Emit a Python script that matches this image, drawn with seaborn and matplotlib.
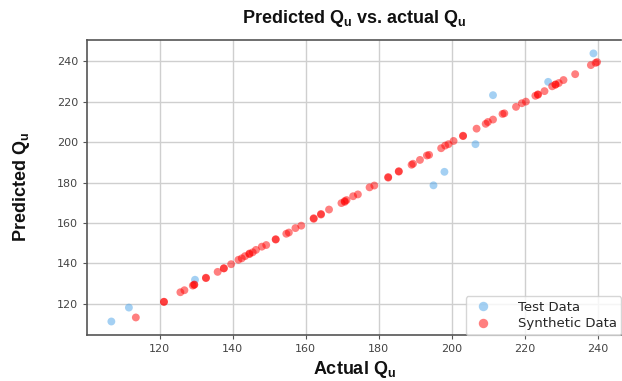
# Predicted vs actual Qu scatter (test + synthetic)
import pandas as pd
import seaborn as sns
import matplotlib.pyplot as plt

sns.set_style('ticks')
plt.rcParams['mathtext.fontset'] = 'custom'
plt.rcParams['mathtext.rm'] = 'Liberation Sans'
plt.rcParams['mathtext.bf'] = 'Liberation Sans:bold'

# test data
test_actual = [106.8, 111.6, 129.7, 195.0, 198.0, 206.5, 211.3, 226.4, 238.8]
test_pred = [111.1, 118.0, 131.8, 178.6, 185.3, 199.0, 223.3, 229.9, 244.0]

# synthetic data
syn_actual = [113.5, 121.2, 121.2, 125.7, 126.8, 129.1, 129.5, 129.5, 132.7, 132.7,
              135.9, 137.6, 137.6, 139.6, 141.6, 142.5, 143.4, 144.6, 144.6, 145.5,
              146.4, 148.0, 149.2, 151.8, 151.8, 154.7, 155.4, 157.2, 158.8, 162.2,
              162.2, 164.2, 164.2, 166.4, 169.8, 170.7, 170.7, 171.2, 173.0, 174.3,
              177.5, 178.8, 182.6, 182.6, 185.5, 185.5, 189.0, 189.4, 191.3, 193.2,
              193.8, 197.1, 198.2, 199.1, 200.5, 203.1, 203.1, 206.8, 209.3, 209.9,
              211.3, 213.9, 214.4, 217.6, 219.2, 220.3, 222.9, 223.6, 223.6, 225.4,
              227.5, 228.4, 228.4, 229.3, 230.6, 233.8, 238.1, 239.4, 239.8]
syn_pred = [113.1, 120.8, 120.9, 125.6, 126.6, 128.9, 129.4, 129.3, 132.8, 132.6,
            135.7, 137.4, 137.5, 139.5, 141.7, 142.4, 143.5, 144.5, 144.8, 145.4,
            146.6, 148.2, 149.0, 151.7, 151.9, 154.6, 155.2, 157.4, 158.6, 162.0,
            162.3, 164.1, 164.4, 166.6, 169.8, 170.4, 170.8, 171.3, 173.2, 174.1,
            177.6, 178.5, 182.4, 182.7, 185.4, 185.6, 188.8, 189.3, 191.2, 193.4,
            193.7, 197.0, 198.3, 199.0, 200.6, 203.0, 203.2, 206.7, 209.1, 210.0,
            211.2, 214.0, 214.3, 217.5, 219.3, 220.1, 223.0, 223.5, 223.7, 225.3,
            227.7, 228.5, 228.6, 229.3, 230.8, 233.7, 238.2, 239.3, 239.7]

df = pd.concat([
    pd.DataFrame({'Actual': test_actual, 'Predicted': test_pred, 'set': 'Test Data'}),
    pd.DataFrame({'Actual': syn_actual, 'Predicted': syn_pred, 'set': 'Synthetic Data'}),
])

fig, ax = plt.subplots(figsize=(6.22, 3.81), dpi=100)
fig.subplots_adjust(left=0.14, right=0.999, bottom=0.121, top=0.895)

sns.scatterplot(
    ax=ax, data=df, x='Actual', y='Predicted', hue='set',
    palette={'Test Data': '#4aa3e8', 'Synthetic Data': '#ff0000'},
    alpha=0.5, s=32, linewidth=0
)

ax.grid(True, color='#cfcfcf', lw=1)
ax.set_axisbelow(True)
for side in ['left', 'bottom', 'top']:
    ax.spines[side].set_color('#555555')
    ax.spines[side].set_linewidth(1.2)
ax.spines['right'].set_visible(False)
ax.tick_params(labelsize=8, length=3, color='#555555', labelcolor='#444444')
ax.set_xticks([120, 140, 160, 180, 200, 220, 240])
ax.set_yticks([120, 140, 160, 180, 200, 220, 240])

ax.set_title(r'Predicted $\mathbf{Q_u}$ vs. actual $\mathbf{Q_u}$', color='#111111',
             fontsize=13, fontweight='bold', family='Liberation Sans', pad=12)
ax.set_xlabel(r'Actual $\mathbf{Q_u}$', fontsize=13, fontweight='bold', color='#111111',
              family='Liberation Sans', labelpad=4)
ax.set_ylabel(r'Predicted $\mathbf{Q_u}$', fontsize=13, fontweight='bold', color='#111111',
              family='Liberation Sans', labelpad=18)

leg = ax.legend(loc='lower right', fontsize=9.5, markerscale=1.2, framealpha=0.8,
                borderaxespad=0.0, handletextpad=1.6, labelspacing=0.25,
                borderpad=0.35)
leg.get_frame().set_edgecolor('#cccccc')

fig.savefig('out.png', dpi=100)
